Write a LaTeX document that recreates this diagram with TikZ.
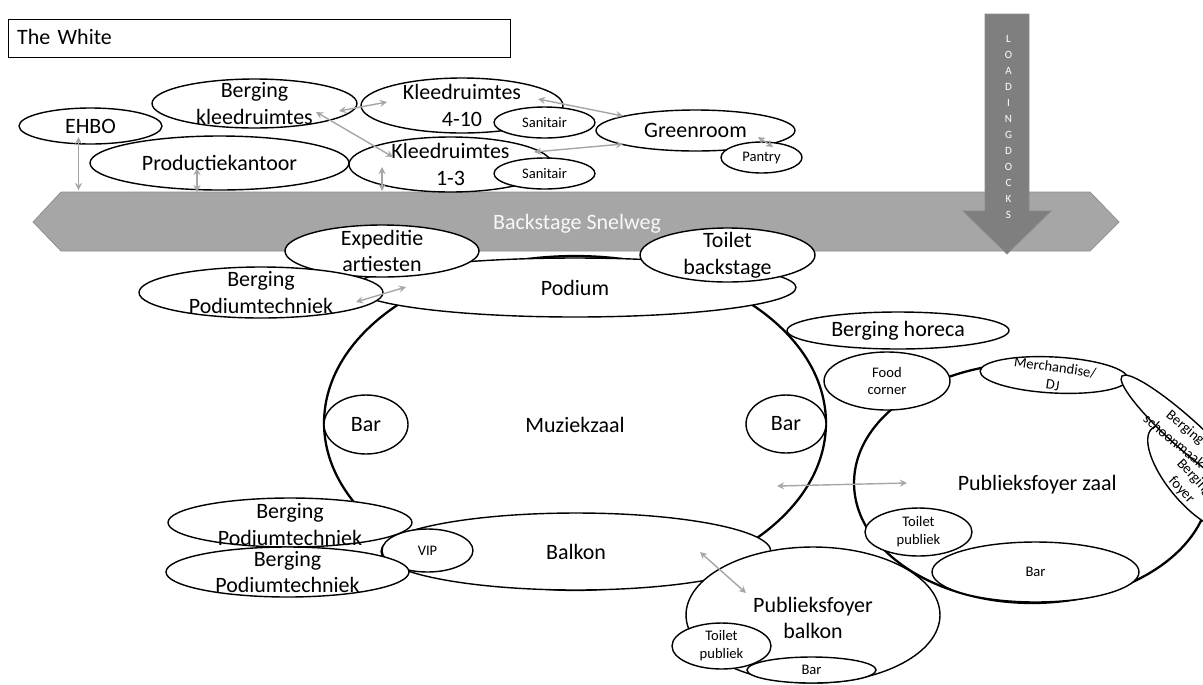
\documentclass[tikz,border=0pt]{standalone}
\usepackage{fontspec}
\setmainfont{Carlito}
\usetikzlibrary{shapes.geometric,arrows}

\definecolor{roadgray}{HTML}{A6A6A6}
\definecolor{dockgray}{HTML}{7F7F7F}

\begin{document}
\begin{tikzpicture}[x=0.02cm,y=-0.02cm]
    \tikzstyle{room} = [ellipse, draw=black, fill=white, inner sep=0pt, line width=0.8pt]
    \tikzstyle{hall} = [room, line width=1.3pt]
    \tikzstyle{bigtext} = [align=center, inner sep=0pt, font=\fontsize{12.5}{15.3}\selectfont]
    \tikzstyle{smalltext} = [align=center, inner sep=0pt, font=\fontsize{8.3}{10.2}\selectfont]
    \tikzstyle{arrow} = [<->, >=stealth, draw=roadgray, line width=0.8pt]

    \useasboundingbox (0,0) rectangle (1203,684);
    \clip (0,0) rectangle (1203,684);

    \node (title) [draw=black, line width=0.8pt, anchor=north west, minimum width=10.04cm, minimum height=0.76cm, text width=9.7cm, text depth=2pt, inner sep=0pt, font=\fontsize{12.5}{15.3}\selectfont] at (8,19) {The White};

    % road and docks
    \draw [fill=roadgray, draw=roadgray!85!black] (33,222) -- (61,192) -- (1090,192) -- (1119,222) -- (1090,251) -- (61,251) -- cycle;
    \node (snelweg) [bigtext, text=white!92!roadgray] at (577,223.5) {Backstage Snelweg};
    \draw [fill=dockgray, draw=dockgray!90!white] (985,14) -- (1029,14) -- (1029,211) -- (1051,211) -- (1007,254) -- (963,211) -- (985,211) -- cycle;
    \node (docks) [align=center, inner sep=0pt, text=white, font=\fontsize{6.3}{9.07}\selectfont] at (1008.5,127) {L\\O\\A\\D\\I\\N\\G\\D\\O\\C\\K\\S};

    % backstage rooms
    \node (ehbo) [room, minimum width=2.86cm, minimum height=0.72cm, label={[bigtext]center:EHBO}] at (90.5,126) {};
    \node (bergkleed) [room, minimum width=4.10cm, minimum height=0.98cm, label={[bigtext]center:Berging\\kleedruimtes}] at (254.5,103.5) {};
    \node (kleedhoog) [room, minimum width=4.04cm, minimum height=1.10cm, label={[bigtext]center:Kleedruimtes\\4-10}] at (462,105.5) {};
    \node (sanitairhoog) [room, minimum width=2.02cm, minimum height=0.62cm, label={[smalltext]center:Sanitair}] at (544.5,122.5) {};
    \node (productie) [room, minimum width=5.18cm, minimum height=1.08cm, label={[bigtext]center:Productiekantoor}] at (219.5,163) {};
    \node (kleedlaag) [room, minimum width=4.06cm, minimum height=1.10cm, label={[bigtext]center:Kleedruimtes\\1-3}] at (450.5,164.5) {};
    \node (sanitairlaag) [room, minimum width=2.02cm, minimum height=0.62cm, label={[smalltext]center:Sanitair}] at (544.5,173.5) {};
    \node (greenroom) [room, minimum width=3.98cm, minimum height=0.82cm, label={[bigtext]center:Greenroom}] at (695.5,130.5) {};
    \node (pantry) [room, minimum width=1.62cm, minimum height=0.62cm, label={[smalltext]center:Pantry}] at (761.5,157.5) {};

    % zaal
    \node (muziekzaal) [hall, minimum width=10.04cm, minimum height=6.68cm, label={[bigtext, yshift=-1pt]center:Muziekzaal}] at (575,423) {};
    \node (podium) [room, minimum width=8.84cm, minimum height=1.18cm, label={[bigtext]center:Podium}] at (575,287.5) {};
    \node (expeditie) [room, minimum width=3.88cm, minimum height=1.04cm, label={[bigtext]center:Expeditie\\artiesten}] at (382,251) {};
    \node (bergpodium) [room, minimum width=4.88cm, minimum height=1.02cm, label={[bigtext]center:Berging\\Podiumtechniek}] at (261,292.5) {};
    \node (toiletback) [room, minimum width=3.50cm, minimum height=1.08cm, label={[bigtext]center:Toilet\\backstage}] at (727.5,255) {};
    \node (barlinks) [room, minimum width=1.68cm, minimum height=1.18cm, label={[bigtext]center:Bar}] at (366,424.5) {};
    \node (barrechts) [room, minimum width=1.60cm, minimum height=1.16cm, label={[bigtext]center:Bar}] at (786,424) {};
    \node (balkon) [room, minimum width=7.80cm, minimum height=1.54cm, label={[bigtext]center:Balkon}] at (576,551.5) {};
    \node (vip) [room, minimum width=1.82cm, minimum height=0.86cm, label={[smalltext]center:VIP}] at (427.5,550.5) {};
    \node (bergbalkonhoog) [room, minimum width=4.88cm, minimum height=0.98cm, label={[bigtext, yshift=-1pt]center:Berging\\Podiumtechniek}] at (290,522.5) {};
    \node (bergbalkonlaag) [room, minimum width=4.86cm, minimum height=1.00cm, label={[bigtext]center:Berging\\Podiumtechniek}] at (287.5,572) {};

    % publieksfoyer zaal
    \node (foyerzaal) [hall, minimum width=7.12cm, minimum height=4.80cm, label={[bigtext, yshift=-1pt, xshift=3pt]center:Publieksfoyer zaal}] at (1032,483) {};
    \node (horeca) [room, minimum width=4.44cm, minimum height=0.74cm, label={[bigtext]center:Berging horeca}] at (898,330.5) {};
    \node (food) [room, minimum width=2.52cm, minimum height=1.16cm, label={[smalltext]center:Food\\corner}] at (887,381) {};
    \node (merch) [room, rotate=-3, minimum width=2.96cm, minimum height=0.72cm] at (1054,375) {};
    \node (merchtext) [smalltext, rotate=-8] at (1054,376) {Merchandise/\\DJ};
    \node (bergfoyer) [room, rotate=-50, minimum width=2.60cm, minimum height=1.04cm] at (1194,478) {};
    \node (schoonmaak) [room, rotate=-42, minimum width=3.40cm, minimum height=0.60cm] at (1185,433) {};
    \node (schoonmaaktext) [smalltext, rotate=-40] at (1180,434) {Berging\\schoonmaak};
    \node (bergfoyertext) [smalltext, rotate=-47] at (1188,484) {Berging\\foyer};
    \node (toiletzaal) [room, minimum width=2.14cm, minimum height=0.96cm, label={[smalltext]center:Toilet\\publiek}] at (918.5,532) {};
    \node (barzaal) [room, minimum width=4.14cm, minimum height=1.20cm, label={[smalltext]center:Bar}] at (1035.5,572) {};

    % publieksfoyer balkon
    \node (foyerbalkon) [room, minimum width=5.08cm, minimum height=2.72cm, label={[bigtext, yshift=-1.7pt]center:Publieksfoyer\\balkon}] at (813,615) {};
    \node (toiletbalkon) [room, minimum width=1.98cm, minimum height=0.92cm, label={[smalltext]center:Toilet\\publiek}] at (721.5,646) {};
    \node (barbalkon) [room, minimum width=2.58cm, minimum height=0.52cm, label={[smalltext]center:Bar}] at (811.5,670) {};

    % free ends of the connectors
    \coordinate (ehboa) at (78.5,137);
    \coordinate (ehbob) at (78.5,190);
    \coordinate (proda) at (197,168);
    \coordinate (prodb) at (197,192);
    \coordinate (kleeda) at (382,167);
    \coordinate (kleedb) at (382,191);
    \coordinate (bergkleeda) at (339,111);
    \coordinate (kleedhooga) at (387,102);
    \coordinate (bergkleedb) at (316,112);
    \coordinate (kleedlaaga) at (393,157);
    \coordinate (kleedhoogb) at (538,99);
    \coordinate (greena) at (623,116);
    \coordinate (kleedlaagb) at (534,152);
    \coordinate (greenb) at (623,144);
    \coordinate (greenc) at (758,137);
    \coordinate (pantrya) at (773,147);
    \coordinate (bergpodiuma) at (356,302);
    \coordinate (podiuma) at (406,287);
    \coordinate (zaala) at (777,486);
    \coordinate (foyerzaala) at (907,483);
    \coordinate (balkona) at (700,552);
    \coordinate (foyerbalkona) at (746,593);

    \draw [arrow] (ehboa) -- (ehbob);
    \draw [arrow] (proda) -- (prodb);
    \draw [arrow] (kleeda) -- (kleedb);
    \draw [arrow] (bergkleeda) -- (kleedhooga);
    \draw [arrow] (bergkleedb) -- (kleedlaaga);
    \draw [arrow] (kleedhoogb) -- (greena);
    \draw [arrow] (kleedlaagb) -- (greenb);
    \draw [arrow] (greenc) -- (pantrya);
    \draw [arrow] (bergpodiuma) -- (podiuma);
    \draw [arrow] (zaala) -- (foyerzaala);
    \draw [arrow] (balkona) -- (foyerbalkona);

\end{tikzpicture}
\end{document}
